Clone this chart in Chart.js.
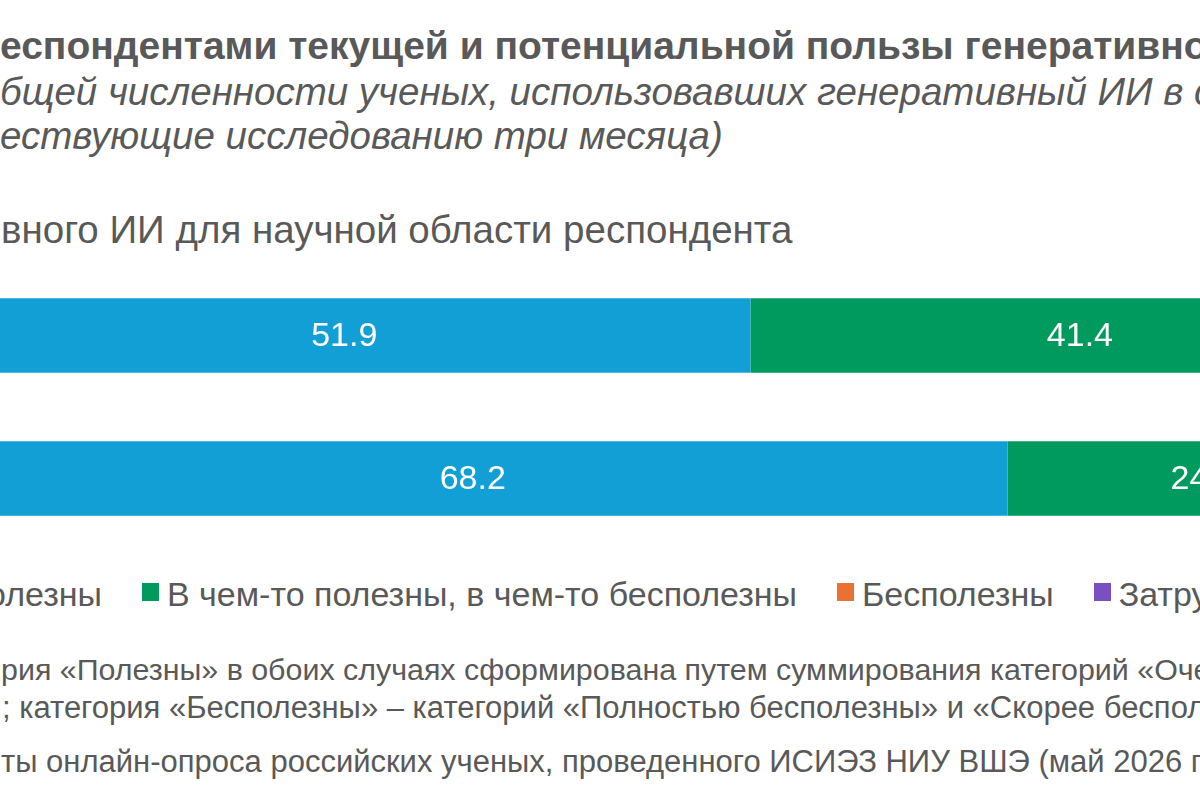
<!DOCTYPE html>
<html lang="ru">
<head>
<meta charset="utf-8">
<title>Польза генеративного ИИ</title>
<script src="https://cdn.jsdelivr.net/npm/chart.js@4.4.1/dist/chart.umd.min.js"></script>
<style>
  html, body { margin: 0; padding: 0; background: #fff; }
  body { width: 1200px; height: 800px; position: relative; overflow: hidden;
         font-family: "Liberation Sans", Arial, sans-serif; color: #595959; }
  .line { position: absolute; white-space: nowrap; line-height: 1; }
  .pre { position: absolute; right: 100%; top: 0; padding-right: 4px; }
  .title { font-size: 39px; font-weight: bold; }
  .sub { font-size: 38.5px; font-style: italic; }
  .section { font-size: 38.5px; }
  .note { font-size: 31px; }
  #chartBox { position: absolute; left: -68px; top: 264px; width: 1577px; height: 286px; }
  #legend { position: absolute; left: 142px; top: 577px; font-size: 34px; line-height: 1; white-space: nowrap; }
  .item { position: absolute; top: 0; white-space: nowrap; }
  .box { position: absolute; top: 6px; width: 17px; height: 18px; }
</style>
</head>
<body>

<div class="line title" style="left:0; top:26px;"><span class="pre">Оценка р</span>еспондентами текущей и потенциальной пользы генеративного ИИ</div>
<div class="line sub" style="left:0; top:73px;"><span class="pre">(% от о</span>бщей численности ученых, использовавших генеративный ИИ в своей работе в</div>
<div class="line sub" style="left:0; top:117px;"><span class="pre">предш</span>ествующие исследованию три месяца)</div>

<div class="line section" style="left:1px; top:211px;"><span class="pre">Польза генерати</span>вного ИИ для научной области респондента</div>

<div id="chartBox"><canvas id="chart" width="1577" height="286"></canvas></div>

<div id="legend"></div>

<div class="line note" style="left:1px; top:654px; font-size:30.4px;"><span class="pre">Примечание: катего</span>рия «Полезны» в обоих случаях сформирована путем суммирования категорий «Очень полезны» и «Скорее полезны»</div>
<div class="line note" style="left:2px; top:692px;"><span class="pre">полезны»</span>; категория «Бесполезны» – категорий «Полностью бесполезны» и «Скорее бесполезны».</div>
<div class="line note" style="left:1px; top:746px;"><span class="pre">Источник: результа</span>ты онлайн-опроса российских ученых, проведенного ИСИЭЗ НИУ ВШЭ (май 2026 г.)</div>

<script>
// категории (подписи строк за левым краем кадра)
const categories = ["Текущая польза", "Потенциальная польза"];

// значения, % от числа ответивших
const useful = [51.9, 68.2];
const partly = [41.4, 24.5];
const useless = [2.9, 2.4];
const hardToSay = [3.8, 4.9];

const seriesNames = ["Полезны", "В чем-то полезны, в чем-то бесполезны", "Бесполезны", "Затрудняюсь ответить"];
const seriesColors = ["#119fd6", "#009a5e", "#e97132", "#7b4fbf"];

// подписи значений по центру сегмента
const valueLabels = {
  id: "valueLabels",
  afterDatasetsDraw(chart) {
    const ctx = chart.ctx;
    ctx.save();
    ctx.fillStyle = "#ffffff";
    ctx.font = "34px 'Liberation Sans', Arial, sans-serif";
    ctx.textAlign = "center";
    ctx.textBaseline = "middle";
    chart.data.datasets.forEach((ds, i) => {
      chart.getDatasetMeta(i).data.forEach((bar, j) => {
        const p = bar.getProps(["x", "y", "base"], true);
        ctx.fillText(ds.data[j].toFixed(1), (p.x + p.base) / 2 + 3, p.y + 1);
      });
    });
    ctx.restore();
  }
};

const seriesData = [useful, partly, useless, hardToSay];

new Chart(document.getElementById("chart"), {
  type: "bar",
  data: {
    labels: categories,
    datasets: seriesData.map((d, i) => ({
      label: seriesNames[i],
      data: d,
      backgroundColor: seriesColors[i],
      borderWidth: 0,
      categoryPercentage: 0.52,
      barPercentage: 1
    }))
  },
  options: {
    indexAxis: "y",
    responsive: false,
    animation: false,
    layout: { padding: 0 },
    plugins: { legend: { display: false }, tooltip: { enabled: false } },
    scales: {
      x: { stacked: true, min: 0, max: 100, display: false },
      y: { stacked: true, display: false }
    }
  },
  plugins: [valueLabels]
});

// легенда: первый элемент уходит за левый край
const legend = document.getElementById("legend");
function legendItem(i) {
  const item = document.createElement("div");
  item.className = "item";
  item.innerHTML = `<span class="box" style="left:0;background:${seriesColors[i]}"></span><span style="margin-left:25px">${seriesNames[i]}</span>`;
  legend.appendChild(item);
  return item;
}
let x = 0;
for (let i = 1; i < seriesNames.length; i++) {
  const item = legendItem(i);
  item.style.left = x + "px";
  x += item.getBoundingClientRect().width + 40;
}
const first = legendItem(0);
first.style.left = -(first.getBoundingClientRect().width + 40) + "px";
</script>
</body>
</html>
